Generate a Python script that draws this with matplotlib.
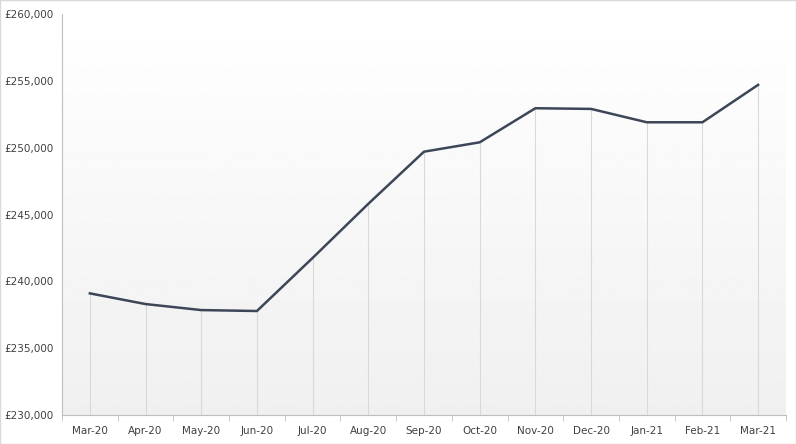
import numpy as np
import matplotlib.pyplot as plt
import matplotlib.ticker as mticker

months = ['Mar-20', 'Apr-20', 'May-20', 'Jun-20', 'Jul-20', 'Aug-20', 'Sep-20',
          'Oct-20', 'Nov-20', 'Dec-20', 'Jan-21', 'Feb-21', 'Mar-21']
prices = [239100, 238300, 237850, 237780, 241750, 245800, 249700,
          250400, 252950, 252900, 251900, 251900, 254700]

fig = plt.figure(figsize=(7.96, 4.44), dpi=100)
ax = fig.add_axes([62/796, 29/444, 724/796, 401/444])

x = np.arange(len(months))
ax.set_xlim(-0.5, len(months) - 0.5)
ax.set_ylim(230000, 260000)

# background gradient, white at top to light grey at bottom
grad = np.linspace(1.0, 0.94, 256).reshape(-1, 1)
ax.imshow(grad, extent=[-0.5, len(months) - 0.5, 230000, 260000], aspect='auto',
          cmap='gray', vmin=0, vmax=1, zorder=0, origin='upper')

ax.vlines(x, 230000, prices, color='#d9d9d9', lw=0.8, zorder=1)
ax.plot(x, prices, color='#3d4657', lw=1.8, zorder=2)

ax.set_xticks(x)
ax.set_xticklabels(months)
ax.set_xticks(np.arange(-0.5, len(months)), minor=True)
ax.tick_params(axis='x', which='major', length=0, labelsize=7.5, colors='#404040', pad=8)
ax.tick_params(axis='x', which='minor', length=4, color='#bfbfbf')
ax.set_yticks(np.arange(230000, 260001, 5000))
ax.yaxis.set_major_formatter(mticker.FuncFormatter(lambda v, p: '£{:,.0f}'.format(v)))
ax.tick_params(axis='y', length=0, labelsize=7.5, colors='#404040', pad=6)

for s in ['top', 'right']:
    ax.spines[s].set_visible(False)
ax.spines['left'].set_color('#bfbfbf')
ax.spines['bottom'].set_color('#bfbfbf')

fig.patches.append(plt.Rectangle((0, 0), 1, 1, transform=fig.transFigure,
                                 fill=False, edgecolor='#d9d9d9', lw=1))

fig.savefig('out.png', dpi=100)
